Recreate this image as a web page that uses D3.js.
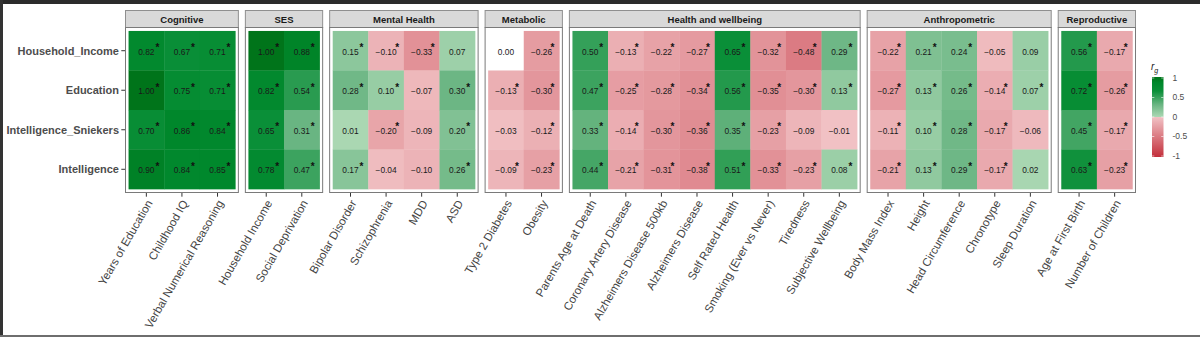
<!DOCTYPE html>
<html>
<head>
<meta charset="utf-8">
<script src="https://cdn.jsdelivr.net/npm/d3@7"></script>
<style>
  html, body { margin: 0; padding: 0; background: #fff; }
  svg { display: block; font-family: "Liberation Sans", Arial, sans-serif; }
</style>
</head>
<body>
<svg id="chart" width="1200" height="337"></svg>
<script>
// ---------------- DATA ----------------
const rows = ["Household_Income", "Education", "Intelligence_Sniekers", "Intelligence"];

const groups = ["Cognitive", "SES", "Mental Health", "Metabolic", "Health and wellbeing", "Anthropometric", "Reproductive"];

const traitsCognitive = ["Years of Education", "Childhood IQ", "Verbal Numerical Reasoning"];
const traitsSES = ["Household Income", "Social Deprivation"];
const traitsMental = ["Bipolar Disorder", "Schizophrenia", "MDD", "ASD"];
const traitsMetabolic = ["Type 2 Diabetes", "Obesity"];
const traitsHealth = ["Parents Age at Death", "Coronary Artery Disease", "Alzheimers Disease 500kb", "Alzheimers Disease",
                      "Self Rated Health", "Smoking (Ever vs Never)", "Tiredness", "Subjective Wellbeing"];
const traitsAnthro = ["Body Mass Index", "Height", "Head Circumference", "Chronotype", "Sleep Duration"];
const traitsRepro = ["Age at First Birth", "Number of Children"];

// values per trait: [Household_Income, Education, Intelligence_Sniekers, Intelligence]
const valuesCognitive = [[0.82, 1.00, 0.70, 0.90], [0.67, 0.75, 0.86, 0.84], [0.71, 0.71, 0.84, 0.85]];
const valuesSES = [[1.00, 0.82, 0.65, 0.78], [0.88, 0.54, 0.31, 0.47]];
const valuesMental = [[0.15, 0.28, 0.01, 0.17], [-0.10, 0.10, -0.20, -0.04], [-0.33, -0.07, -0.09, -0.10], [0.07, 0.30, 0.20, 0.26]];
const valuesMetabolic = [[0.00, -0.13, -0.03, -0.09], [-0.26, -0.30, -0.12, -0.23]];
const valuesHealth = [[0.50, 0.47, 0.33, 0.44], [-0.13, -0.25, -0.14, -0.21], [-0.22, -0.28, -0.30, -0.31], [-0.27, -0.34, -0.36, -0.38],
                      [0.65, 0.56, 0.35, 0.51], [-0.32, -0.35, -0.23, -0.33], [-0.48, -0.30, -0.09, -0.23], [0.29, 0.13, -0.01, 0.08]];
const valuesAnthro = [[-0.22, -0.27, -0.11, -0.21], [0.21, 0.13, 0.10, 0.13], [0.24, 0.26, 0.28, 0.29], [-0.05, -0.14, -0.17, -0.17], [0.09, 0.07, -0.06, 0.02]];
const valuesRepro = [[0.56, 0.72, 0.45, 0.63], [-0.17, -0.26, -0.17, -0.23]];

// significance (1 = star shown)
const sigCognitive = [[1,1,1,1],[1,1,1,1],[1,1,1,1]];
const sigSES = [[1,1,1,1],[1,1,1,1]];
const sigMental = [[1,1,0,1],[1,1,1,0],[1,0,0,0],[0,1,1,1]];
const sigMetabolic = [[0,1,0,1],[1,1,1,1]];
const sigHealth = [[1,1,1,1],[1,1,1,1],[1,1,1,1],[1,1,1,1],[1,1,1,1],[1,1,1,1],[1,1,0,1],[1,1,0,1]];
const sigAnthro = [[1,1,1,1],[1,1,1,1],[1,1,1,1],[0,1,1,1],[0,1,0,0]];
const sigRepro = [[1,1,1,1],[1,1,1,1]];

const legendTicks = [1, 0.5, 0, -0.5, -1];

// ---------------- BUILD ----------------
const traitLists = [traitsCognitive, traitsSES, traitsMental, traitsMetabolic, traitsHealth, traitsAnthro, traitsRepro];
const valueLists = [valuesCognitive, valuesSES, valuesMental, valuesMetabolic, valuesHealth, valuesAnthro, valuesRepro];
const sigLists = [sigCognitive, sigSES, sigMental, sigMetabolic, sigHealth, sigAnthro, sigRepro];

const svg = d3.select("#chart");
const W = 1200, H = 337;

// frame
svg.append("rect").attr("x", 0).attr("y", 0).attr("width", W).attr("height", H).attr("fill", "#fff");
svg.append("rect").attr("x", 0).attr("y", 0).attr("width", W).attr("height", 4).attr("fill", "#2b2b2b");
svg.append("rect").attr("x", 0).attr("y", 0).attr("width", 3).attr("height", H).attr("fill", "#333");

// colour scale
const color = d3.scaleLinear()
  .domain([-1, -0.0001, 0, 0.0001, 0.3, 0.65, 0.85, 1])
  .range(["#c32f3b", "#f1c2c5", "#ffffff", "#acd8b4", "#6cb684", "#0a8f38", "#00882c", "#00741a"])
  .interpolate(d3.interpolateRgb)
  .clamp(true);

const left = 125, right = 1136, gap = 6;
const stripTop = 10, panelTop = 27, panelBottom = 193;
const totalUnits = d3.sum(traitLists, t => t.length + 0.2);
const unit = (right - left - gap * (groups.length - 1)) / totalUnits;

const y = d3.scaleBand().domain(rows).range([panelTop, panelBottom]).paddingInner(0).paddingOuter(0.1);

let x0 = left;
const fmt = d3.format(".2f");
const textCol = "#4d4d4d";

groups.forEach((g, gi) => {
  const traits = traitLists[gi];
  const w = (traits.length + 0.2) * unit;
  const x = d3.scaleBand().domain(traits).range([x0, x0 + w]).paddingInner(0).paddingOuter(0.1);
  const gg = svg.append("g");

  // strip
  gg.append("rect").attr("x", x0 + 0.5).attr("y", stripTop + 0.5).attr("width", w - 1).attr("height", panelTop - stripTop)
    .attr("fill", "#d9d9d9").attr("stroke", "#8f8f8f").attr("stroke-width", 1);
  gg.append("text").attr("x", x0 + w / 2).attr("y", (stripTop + panelTop) / 2 + 1).attr("dy", "0.35em")
    .attr("text-anchor", "middle").attr("font-size", 9.5).attr("font-weight", "bold").attr("fill", "#1a1a1a").text(g);

  // panel
  gg.append("rect").attr("x", x0 + 0.5).attr("y", panelTop + 0.5).attr("width", w - 1).attr("height", panelBottom - panelTop - 1)
    .attr("fill", "#fff").attr("stroke", "#7a7a7a").attr("stroke-width", 1);

  const cells = [];
  traits.forEach((t, ti) => rows.forEach((r, ri) => cells.push({t, r, v: valueLists[gi][ti][ri], s: sigLists[gi][ti][ri]})));

  gg.selectAll("rect.tile").data(cells).join("rect").attr("class", "tile")
    .attr("x", d => x(d.t)).attr("y", d => y(d.r))
    .attr("width", x.bandwidth() + 0.3).attr("height", y.bandwidth() + 0.3)
    .attr("fill", d => color(d.v));

  gg.selectAll("text.val").data(cells).join("text").attr("class", "val")
    .attr("x", d => x(d.t) + x.bandwidth() / 2).attr("y", d => y(d.r) + y.bandwidth() / 2 + 1)
    .attr("dy", "0.35em").attr("text-anchor", "middle").attr("font-size", 8.4).attr("fill", "#1a1a1a")
    .text(d => fmt(d.v));

  gg.selectAll("text.star").data(cells.filter(d => d.s)).join("text").attr("class", "star")
    .attr("x", d => x(d.t) + x.bandwidth() / 2 + 11).attr("y", d => y(d.r) + y.bandwidth() / 2 + 0.5)
    .attr("text-anchor", "middle").attr("font-size", 10).attr("font-weight", "bold").attr("fill", "#111")
    .text("*");

  // x ticks + labels
  traits.forEach(t => {
    const cx = x(t) + x.bandwidth() / 2;
    gg.append("line").attr("x1", cx).attr("x2", cx).attr("y1", panelBottom).attr("y2", panelBottom + 3.7)
      .attr("stroke", "#333").attr("stroke-width", 1);
    gg.append("text").attr("transform", `translate(${cx + 3},${panelBottom + 8}) rotate(-60)`)
      .attr("text-anchor", "end").attr("dy", "0.35em").attr("font-size", 11.5).attr("fill", "#444").text(t);
  });

  x0 += w + gap;
});

// y axis
rows.forEach(r => {
  const cy = y(r) + y.bandwidth() / 2;
  svg.append("line").attr("x1", left - 3.7).attr("x2", left).attr("y1", cy).attr("y2", cy).attr("stroke", "#333");
  svg.append("text").attr("x", left - 6).attr("y", cy).attr("dy", "0.35em").attr("text-anchor", "end")
    .attr("font-size", 11).attr("font-weight", "bold").attr("fill", textCol).text(r);
});

// legend
const ly = d3.scaleLinear().domain([-1, 1]).range([156, 78]);
const defs = svg.append("defs");
const grad = defs.append("linearGradient").attr("id", "lg").attr("x1", 0).attr("y1", 1).attr("x2", 0).attr("y2", 0);
const nStops = 200;
d3.range(nStops + 1).forEach(i => {
  const v = -1 + 2 * i / nStops;
  grad.append("stop").attr("offset", i / nStops).attr("stop-color", color(Math.abs(v) < 0.006 ? 0 : v));
});
const barX = 1152, barW = 11.5;
svg.append("rect").attr("x", barX).attr("y", ly(1) - 1).attr("width", barW).attr("height", ly(-1) - ly(1) + 2).attr("fill", "url(#lg)");
legendTicks.forEach(v => {
  svg.append("line").attr("x1", barX).attr("x2", barX + 2.3).attr("y1", ly(v)).attr("y2", ly(v)).attr("stroke", "#fff").attr("stroke-width", 0.6);
  svg.append("line").attr("x1", barX + barW - 2.3).attr("x2", barX + barW).attr("y1", ly(v)).attr("y2", ly(v)).attr("stroke", "#fff").attr("stroke-width", 0.6);
  svg.append("text").attr("x", barX + barW + 9).attr("y", ly(v)).attr("dy", "0.35em").attr("font-size", 8.5).attr("fill", textCol)
    .text(v === 0 ? "0" : String(v));
});
const lt = svg.append("text").attr("x", barX - 1).attr("y", 70).attr("font-size", 10).attr("fill", "#1a1a1a");
lt.append("tspan").attr("font-style", "italic").text("r");
lt.append("tspan").attr("font-style", "italic").attr("font-size", 7).attr("dy", 3).text("g");

// bottom frame line (drawn last so it sits over labels)
svg.append("rect").attr("x", 0).attr("y", 335).attr("width", W).attr("height", 2).attr("fill", "#6e6e6e");
</script>
</body>
</html>
